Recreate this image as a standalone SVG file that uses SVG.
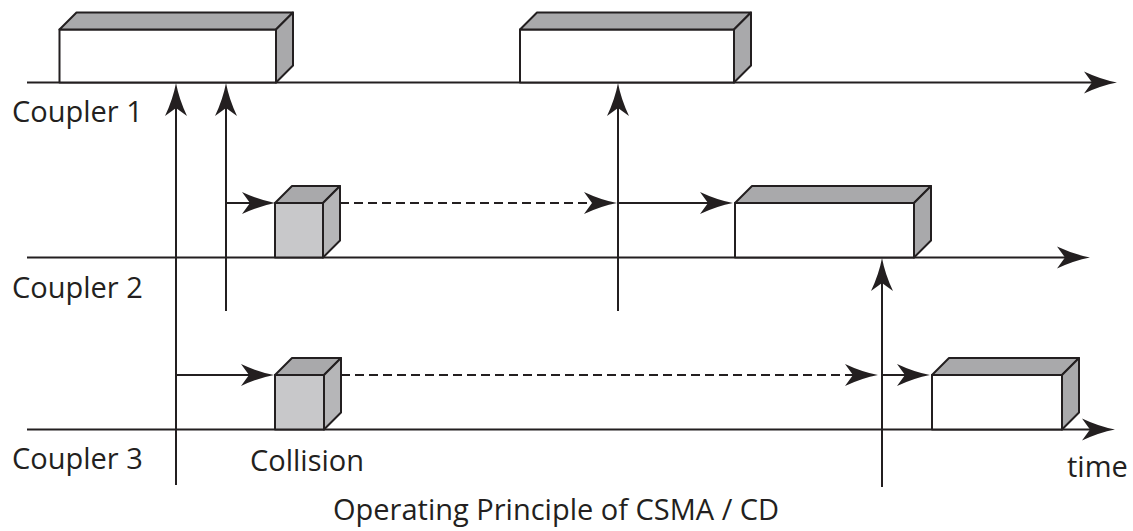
<svg xmlns="http://www.w3.org/2000/svg" width="1133" height="531" viewBox="0 0 1133 531">
<style>
.ln{stroke:#231f20;stroke-width:2;fill:none}
.dash{stroke:#231f20;stroke-width:1.8;fill:none;stroke-dasharray:9 5}
.front{fill:#ffffff;stroke:#231f20;stroke-width:2;stroke-linejoin:round}
.top{fill:#a9a9ab;stroke:#231f20;stroke-width:2;stroke-linejoin:round}
.side{fill:#a9a9ab;stroke:#231f20;stroke-width:2;stroke-linejoin:round}
.cfront{fill:#c8c8ca;stroke:#231f20;stroke-width:2;stroke-linejoin:round}
.ctop{fill:#a9a9ab;stroke:#231f20;stroke-width:2;stroke-linejoin:round}
.cside{fill:#b6b6b8;stroke:#231f20;stroke-width:2;stroke-linejoin:round}
.lbl{font-family:"Open Sans","Liberation Sans",sans-serif;font-size:29px;fill:#231f20}
</style>
<defs>
<marker id="ah" viewBox="-14 -12 36 24" markerWidth="36" markerHeight="24" refX="0" refY="0" orient="auto" markerUnits="userSpaceOnUse">
<path d="M20,0 Q4,-3 -13,-11 L-5,0 L-13,11 Q4,3 20,0 Z" fill="#231f20"/>
</marker>
</defs>

<g id="connectors">
<path class="ln" d="M27,82.5 H1097" marker-end="url(#ah)"/>
<path class="ln" d="M27,257.5 H1070" marker-end="url(#ah)"/>
<path class="ln" d="M27,429.5 H1095" marker-end="url(#ah)"/>
<path class="ln" d="M176,485 V103" marker-end="url(#ah)"/>
<path class="ln" d="M226,311 V103" marker-end="url(#ah)"/>
<path class="ln" d="M618,311 V103" marker-end="url(#ah)"/>
<path class="ln" d="M882,487 V278" marker-end="url(#ah)"/>
<path class="ln" d="M226,203 H255" marker-end="url(#ah)"/>
<path class="dash" d="M340,203 H597" marker-end="url(#ah)"/>
<path class="ln" d="M618,203 H713" marker-end="url(#ah)"/>
<path class="ln" d="M176,375 H254" marker-end="url(#ah)"/>
<path class="dash" d="M341,375 H858" marker-end="url(#ah)"/>
<path class="ln" d="M882,375 H910" marker-end="url(#ah)"/>
</g>

<g id="frame-c1-a">
<rect class="front" x="59.5" y="29.5" width="216.5" height="53"/>
<polygon class="top" points="59.5,29.5 76.5,12.5 293,12.5 276,29.5"/>
<polygon class="side" points="276,29.5 293,12.5 293,65.5 276,82.5"/>
</g>

<g id="frame-c1-b">
<rect class="front" x="520" y="29.5" width="214" height="53"/>
<polygon class="top" points="520,29.5 537,12.5 751,12.5 734,29.5"/>
<polygon class="side" points="734,29.5 751,12.5 751,65.5 734,82.5"/>
</g>

<g id="collision-c2">
<rect class="cfront" x="275" y="203" width="48" height="54.5"/>
<polygon class="ctop" points="275,203 292,186 340,186 323,203"/>
<polygon class="cside" points="323,203 340,186 340,240.5 323,257.5"/>
</g>

<g id="frame-c2">
<rect class="front" x="735" y="203" width="179" height="54.5"/>
<polygon class="top" points="735,203 752,186 931,186 914,203"/>
<polygon class="side" points="914,203 931,186 931,240.5 914,257.5"/>
</g>

<g id="collision-c3">
<rect class="cfront" x="275" y="375" width="49" height="54.5"/>
<polygon class="ctop" points="275,375 292,358 341,358 324,375"/>
<polygon class="cside" points="324,375 341,358 341,412.5 324,429.5"/>
</g>

<g id="frame-c3">
<rect class="front" x="932" y="375" width="130" height="54.5"/>
<polygon class="top" points="932,375 949,358 1079,358 1062,375"/>
<polygon class="side" points="1062,375 1079,358 1079,412.5 1062,429.5"/>
</g>

<g id="labels">
<text class="lbl" x="12" y="122">Coupler 1</text>
<text class="lbl" x="12" y="298">Coupler 2</text>
<text class="lbl" x="12" y="469">Coupler 3</text>
<text class="lbl" x="250" y="471">Collision</text>
<text class="lbl" x="1067" y="477">time</text>
<text class="lbl" x="333" y="520">Operating Principle of CSMA / CD</text>
</g>
</svg>
